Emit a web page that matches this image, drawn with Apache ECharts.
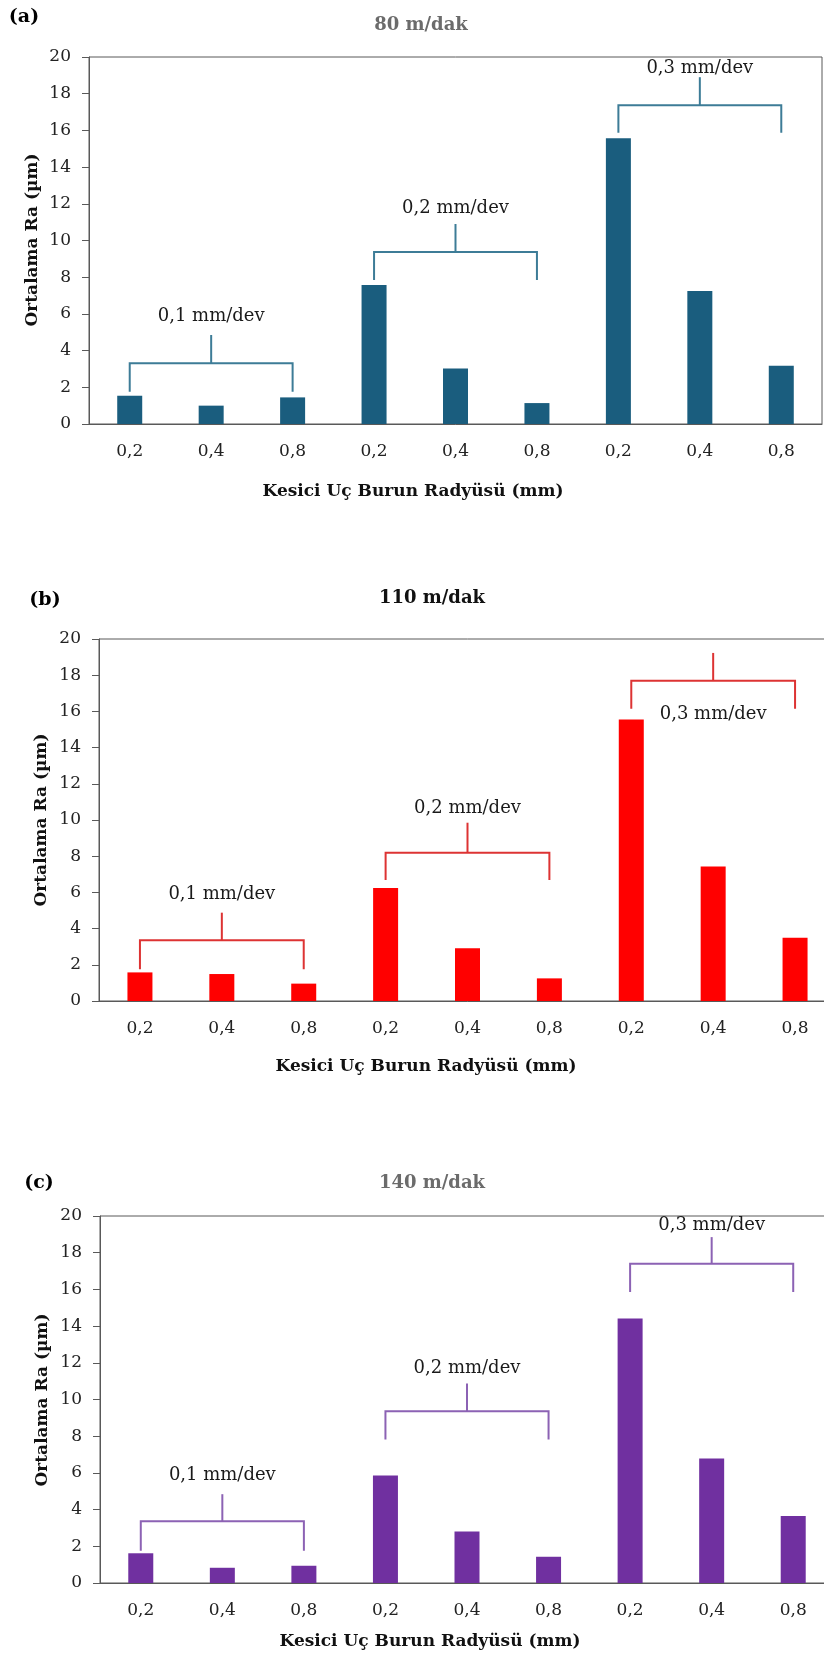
<!DOCTYPE html>
<html>
<head>
<meta charset="utf-8">
<style>
  html, body { margin: 0; padding: 0; background: #ffffff; overflow: hidden; width: 824px; }
  #chart { width: 850px; height: 1658px; }
</style>
<script src="https://cdn.jsdelivr.net/npm/echarts@6/dist/echarts.min.js"></script>
</head>
<body>
<div id="chart"></div>
<script>
// ---- data ----
const radiusLabels = ['0,2', '0,4', '0,8', '0,2', '0,4', '0,8', '0,2', '0,4', '0,8'];
const yTicks = [0, 2, 4, 6, 8, 10, 12, 14, 16, 18, 20];

const panelLetters = ['(a)', '(b)', '(c)'];
const speedTitles = ['80 m/dak', '110 m/dak', '140 m/dak'];
const feedLabels = ['0,1 mm/dev', '0,2 mm/dev', '0,3 mm/dev'];

const ra80 = [1.54, 1.00, 1.45, 7.57, 3.03, 1.14, 15.57, 7.25, 3.18];
const ra110 = [1.58, 1.49, 0.96, 6.24, 2.91, 1.25, 15.55, 7.43, 3.50];
const ra140 = [1.62, 0.83, 0.94, 5.86, 2.81, 1.43, 14.41, 6.79, 3.65];

// bracket annotations: [startCategory, endCategory, legBottom, bracketLevel, stemTop, labelY]
const brackets80 = [
  [0, 2, 1.76, 3.31, 4.85, 5.85],
  [3, 5, 7.85, 9.37, 10.9, 11.77],
  [6, 8, 15.87, 17.37, 18.9, 19.4]
];
const brackets110 = [
  [0, 2, 1.75, 3.35, 4.88, 5.89],
  [3, 5, 6.68, 8.19, 9.85, 10.67],
  [6, 8, 16.15, 17.7, 19.23, 15.82]
];
const brackets140 = [
  [0, 2, 1.76, 3.36, 4.84, 5.88],
  [3, 5, 7.82, 9.36, 10.87, 11.72],
  [6, 8, 15.86, 17.4, 18.85, 19.49]
];

const xAxisTitle = 'Kesici Uç Burun Radyüsü (mm)';
const yAxisTitle = 'Ortalama Ra (µm)';

// ---- styling / layout ----
const FONT = 'DejaVu Serif';
const panels = [
  { values: ra80, brackets: brackets80, bar: '#1a5d7e', line: '#3d7c97', titleColor: '#6b6b6b',
    grid: { left: 89, top: 57, width: 733, height: 367 },
    letter: [24, 17], title: [421, 25], xName: [413, 492], yName: [33, 240] },
  { values: ra110, brackets: brackets110, bar: '#ff0000', line: '#dd3333', titleColor: '#111111',
    grid: { left: 99, top: 639, width: 737, height: 362 },
    letter: [45, 600], title: [432, 598], xName: [426, 1067], yName: [42, 820] },
  { values: ra140, brackets: brackets140, bar: '#7030a0', line: '#8c62b4', titleColor: '#6b6b6b',
    grid: { left: 100, top: 1216, width: 734, height: 367 },
    letter: [39, 1183], title: [432, 1183], xName: [430, 1642], yName: [43, 1400] }
];

const grids = [], xAxes = [], yAxes = [], series = [], graphics = [];

panels.forEach((p, i) => {
  grids.push(Object.assign({ show: true, borderColor: '#595959', borderWidth: 1, containLabel: false }, p.grid));
  xAxes.push({
    type: 'category', gridIndex: i, data: radiusLabels,
    axisLine: { show: true, lineStyle: { color: '#595959', width: 1 } },
    axisTick: { show: false },
    axisLabel: { color: '#222222', fontFamily: FONT, fontSize: 17, margin: 19, interval: 0 },
    splitLine: { show: false }
  });
  yAxes.push({
    type: 'value', gridIndex: i, min: yTicks[0], max: yTicks[yTicks.length - 1], interval: yTicks[1] - yTicks[0],
    axisLine: { show: true, lineStyle: { color: '#595959', width: 1 } },
    axisTick: { show: true, length: 7, lineStyle: { color: '#595959' } },
    axisLabel: { color: '#222222', fontFamily: FONT, fontSize: 17, margin: 18 },
    splitLine: { show: false }
  });
  series.push({
    type: 'bar', xAxisIndex: i, yAxisIndex: i, data: p.values, barWidth: 25,
    itemStyle: { color: p.bar }, silent: true, animation: false
  });
  const br = p.brackets;
  series.push({
    type: 'custom', xAxisIndex: i, yAxisIndex: i, animation: false, silent: true, clip: false,
    data: br,
    encode: { x: [0, 1], y: [2, 3, 4, 5] },
    renderItem: function (params, api) {
      const d = br[params.dataIndex];
      const a = api.coord([d[0], d[3]]);
      const b = api.coord([d[1], d[3]]);
      const bottom = api.coord([d[0], d[2]])[1];
      const top = api.coord([d[0], d[4]])[1];
      const ly = api.coord([d[0], d[5]])[1];
      const xm = (a[0] + b[0]) / 2;
      const ls = { stroke: p.line, lineWidth: 2, fill: null };
      return {
        type: 'group',
        children: [
          { type: 'polyline', shape: { points: [[a[0], bottom], [a[0], a[1]], [b[0], b[1]], [b[0], bottom]] }, style: ls },
          { type: 'line', shape: { x1: xm, y1: a[1], x2: xm, y2: top }, style: ls },
          { type: 'text', x: xm, y: ly, style: { text: feedLabels[params.dataIndex], fill: '#1a1a1a', font: '18px "' + FONT + '"', align: 'center', verticalAlign: 'middle' } }
        ]
      };
    }
  });
  graphics.push(
    { type: 'text', x: p.letter[0], y: p.letter[1], style: { text: panelLetters[i], fill: '#000', font: 'bold 19px "' + FONT + '"', align: 'center', verticalAlign: 'middle' } },
    { type: 'text', x: p.title[0], y: p.title[1], style: { text: speedTitles[i], fill: p.titleColor, font: 'bold 18px "' + FONT + '"', align: 'center', verticalAlign: 'middle' } },
    { type: 'text', x: p.xName[0], y: p.xName[1], style: { text: xAxisTitle, fill: '#111', font: 'bold 17px "' + FONT + '"', align: 'center', verticalAlign: 'middle' } },
    { type: 'text', x: p.yName[0], y: p.yName[1], rotation: Math.PI / 2, style: { text: yAxisTitle, fill: '#111', font: 'bold 17px "' + FONT + '"', align: 'center', verticalAlign: 'middle' } }
  );
});

const chart = echarts.init(document.getElementById('chart'), null, { renderer: 'canvas', width: 850, height: 1658 });
chart.setOption({
  backgroundColor: '#ffffff',
  animation: false,
  grid: grids,
  xAxis: xAxes,
  yAxis: yAxes,
  series: series,
  graphic: graphics
});
</script>
</body>
</html>
